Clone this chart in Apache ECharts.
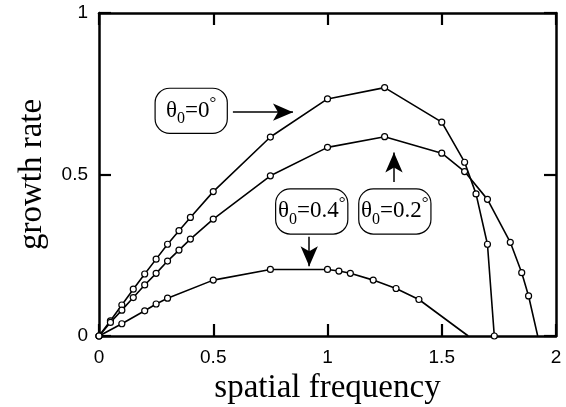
<!DOCTYPE html>
<html>
<head>
<meta charset="utf-8">
<script src="https://cdn.jsdelivr.net/npm/echarts@6/dist/echarts.min.js"></script>
<style>
html,body{margin:0;padding:0;background:#fff;}
#chart{width:566px;height:407px;}
</style>
</head>
<body>
<div id="chart"></div>
<script>
// ---- data ----
var xTicks = [0, 0.5, 1, 1.5, 2];
var yTicks = [0, 0.5, 1];

var x00 = [0, 0.05, 0.1, 0.15, 0.2, 0.25, 0.3, 0.35, 0.4, 0.5, 0.75, 1.0, 1.25, 1.5, 1.6, 1.65, 1.7, 1.73];
var y00 = [0, 0.047, 0.096, 0.145, 0.192, 0.238, 0.284, 0.326, 0.367, 0.447, 0.616, 0.734, 0.769, 0.662, 0.538, 0.44, 0.284, 0];

var x02 = [0, 0.05, 0.1, 0.15, 0.2, 0.25, 0.3, 0.35, 0.4, 0.5, 0.75, 1.0, 1.25, 1.5, 1.6, 1.7, 1.8, 1.85, 1.88, 1.92];
var y02 = [0, 0.042, 0.08, 0.119, 0.158, 0.194, 0.232, 0.266, 0.30, 0.362, 0.496, 0.584, 0.617, 0.566, 0.509, 0.423, 0.29, 0.196, 0.124, 0];

var x04 = [0, 0.1, 0.2, 0.25, 0.3, 0.5, 0.75, 1.0, 1.05, 1.1, 1.2, 1.3, 1.4, 1.616];
var y04 = [0, 0.038, 0.078, 0.099, 0.117, 0.173, 0.206, 0.206, 0.201, 0.194, 0.173, 0.147, 0.113, 0];

// whether the last point carries a marker
var lastMarked = {"θ0=0°": true, "θ0=0.2°": false, "θ0=0.4°": false};

var labels = ["0", "0.4", "0.2"];
var labelPos = [[0.4035, 0.697], [0.931, 0.3856], [1.2947, 0.3856]];
var arrows = [
  [[0.586, 0.693], [0.849, 0.693]],
  [[0.92, 0.307], [0.92, 0.216]],
  [[1.291, 0.477], [1.291, 0.568]]
];

function pairs(xs, ys, name) {
  var out = [];
  for (var i = 0; i < xs.length; i++) {
    var item = {value: [xs[i], ys[i]]};
    if (i === xs.length - 1 && !lastMarked[name]) item.symbol = 'none';
    out.push(item);
  }
  return out;
}

var serif = '"Liberation Serif", "Times New Roman", serif';
var sans = '"Liberation Sans", Arial, Helvetica, sans-serif';

function curve(name, xs, ys) {
  return {
    name: name, type: 'line', xAxisIndex: 0, yAxisIndex: 0,
    data: pairs(xs, ys, name),
    symbol: 'circle', symbolSize: 6,
    lineStyle: {color: '#000', width: 1.6},
    itemStyle: {color: '#fff', borderColor: '#000', borderWidth: 1.2},
    z: 3, animation: false
  };
}

var rich = {
  t: {fontFamily: serif, fontSize: 23, color: '#000', lineHeight: 32, verticalAlign: 'middle'},
  s: {fontFamily: serif, fontSize: 16, color: '#000', lineHeight: 32, verticalAlign: 'bottom'},
  d: {fontFamily: serif, fontSize: 17, color: '#000', lineHeight: 32, verticalAlign: 'top'}
};

var mpData = labels.map(function (v, i) {
  return {
    coord: labelPos[i],
    label: {
      show: true, position: 'inside',
      formatter: '{t|θ}{s|0}{t|=' + v + '}{d|°}',
      rich: rich,
      backgroundColor: '#fff', borderColor: '#000', borderWidth: 1.2,
      borderRadius: 14, padding: [6, 3, 7, 3],
      width: 65, height: 31, align: 'center'
    }
  };
});

var mlData = arrows.map(function (a) {
  return [{coord: a[0]}, {coord: a[1]}];
});

function axisCommon() {
  return {
    axisLine: {onZero: false, lineStyle: {color: '#000', width: 2.5}},
    axisTick: {show: true, inside: true, length: 12, lineStyle: {color: '#000', width: 2.2}},
    splitLine: {show: false}
  };
}

var option = {
  backgroundColor: '#fff',
  animation: false,
  grid: {left: 99, right: 10, top: 13, bottom: 71, containLabel: false, outerBoundsMode: 'none'},
  xAxis: [Object.assign(axisCommon(), {
    type: 'value', min: 0, max: 2, interval: 0.5, position: 'bottom',
    name: 'spatial frequency', nameLocation: 'middle', nameGap: 30,
    nameTextStyle: {fontFamily: serif, fontSize: 33, color: '#000'},
    axisLabel: {fontFamily: sans, fontSize: 19, color: '#000', margin: 12}
  }), Object.assign(axisCommon(), {
    type: 'value', min: 0, max: 2, interval: 0.5, position: 'top',
    axisLabel: {show: false}
  })],
  yAxis: [Object.assign(axisCommon(), {
    type: 'value', min: 0, max: 1, interval: 0.5, position: 'left',
    name: 'growth rate', nameLocation: 'middle', nameGap: 50, nameRotate: 90,
    nameTextStyle: {fontFamily: serif, fontSize: 33, color: '#000'},
    axisLabel: {fontFamily: sans, fontSize: 19, color: '#000', margin: 11}
  }), Object.assign(axisCommon(), {
    type: 'value', min: 0, max: 1, interval: 0.5, position: 'right',
    axisLabel: {show: false}
  })],
  series: [
    curve('θ0=0°', x00, y00),
    curve('θ0=0.2°', x02, y02),
    curve('θ0=0.4°', x04, y04),
    {
      name: 'annotations', type: 'line', data: [], xAxisIndex: 0, yAxisIndex: 0,
      z: 5, animation: false,
      markPoint: {
        symbol: 'circle', symbolSize: 1, silent: true,
        itemStyle: {color: 'rgba(0,0,0,0)'},
        data: mpData, animation: false
      },
      markLine: {
        silent: true, symbol: ['none', 'arrow'], symbolSize: [13, 20],
        lineStyle: {color: '#000', width: 1.5, type: 'solid'},
        label: {show: false}, data: mlData, animation: false
      }
    }
  ]
};

var chart = echarts.init(document.getElementById('chart'), null, {renderer: 'canvas'});
chart.setOption(option);
</script>
</body>
</html>
